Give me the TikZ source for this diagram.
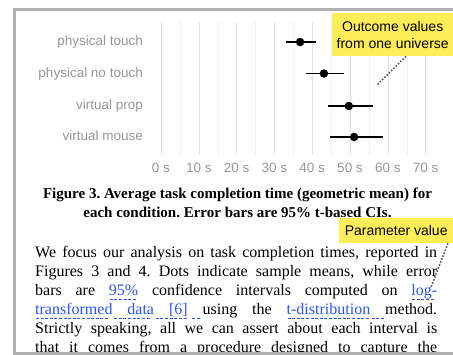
\documentclass[tikz,border=0pt]{standalone}
\usepackage{fontspec}
\setmainfont{Liberation Serif}
\setsansfont{Liberation Sans}
\usetikzlibrary{positioning}
\frenchspacing
\definecolor{framegray}{RGB}{176,176,176}
\definecolor{gridmajor}{RGB}{224,224,224}
\definecolor{gridminor}{RGB}{241,241,241}
\definecolor{labelgray}{RGB}{150,150,150}
\definecolor{noteyellow}{RGB}{255,238,88}
\definecolor{linkblue}{RGB}{45,85,230}
\tikzstyle{rowlabel} = [anchor=east,inner sep=0,text=labelgray,text height=10pt,
  text depth=3pt,font=\sffamily\fontsize{13.5}{16}\selectfont]
\tikzstyle{ticklabel} = [inner sep=0,text=labelgray,text height=10pt,text depth=3pt,
  font=\sffamily\fontsize{13.5}{16}\selectfont]
\tikzstyle{meandot} = [circle,fill=black,inner sep=0,minimum size=8.5pt]
\tikzstyle{errbar} = [line width=1.5pt]
\tikzstyle{note} = [rectangle,fill=noteyellow,inner sep=0,align=center,
  font=\sffamily\fontsize{14}{17}\selectfont]
\tikzstyle{pointer} = [draw=black!65,line width=1.6pt,dash pattern=on 1.6pt off 1.6pt]
% links with a dashed underline
\newcommand{\dashbit}{\hbox to 4.6pt{\hss\lower4pt\hbox{\vrule width 3pt height 0.8pt depth 0pt}\hss}}
\newcommand{\lnk}[1]{{\color{linkblue}\setbox0\hbox{#1}%
  \rlap{\hbox to \wd0{\leaders\dashbit\hfill}}\box0}}
\newcommand{\lsp}{{\color{linkblue}\leaders\dashbit
  \hskip\fontdimen2\font plus\fontdimen3\font minus\fontdimen4\font}}

\begin{document}
\begin{tikzpicture}[x=1pt,y=-1pt]
\useasboundingbox (0,0) rectangle (453,354);

% chart
\begin{scope}[xshift=161pt,x=3.78pt]
\foreach \s in {5,15,...,65} \draw[gridminor] (\s,22) -- (\s,155);
\foreach \s in {0,10,...,70} {
  \draw[gridmajor] (\s,22) -- (\s,155);
  \node[ticklabel] (t\s) at (\s,169) {\s\ s};
}
\foreach \name/\txt/\y/\lo/\m/\hi in {
    pt/physical touch/42/33/36.8/41,
    pnt/physical no touch/73.5/38.4/43.1/48.4,
    vp/virtual prop/106/44.2/49.7/56.1,
    vm/virtual mouse/137/44.7/51.1/58.7} {
  \node[rowlabel] (l\name) at (-4.76,\y) {\txt};
  \draw[errbar] (\lo,\y) -- (\hi,\y);
  \node[meandot] (d\name) at (\m,\y) {};
}
\end{scope}

% caption
\node[align=center,inner sep=0,font=\bfseries\fontsize{15}{19}\selectfont] (caption)
  at (237.5,203) {Figure 3. Average task completion time (geometric mean) for\\
  each condition. Error bars are 95\% t-based CIs.};

% body text
\begin{scope}
\clip (16,11) rectangle (453,351.5);
\node[anchor=north west,inner sep=0,text width=402pt,align=justify,
  font=\fontsize{16}{19}\selectfont] (body) at (35,246) {\tolerance=10000
  \parfillskip=0pt
  We focus our analysis on task completion times, reported in\linebreak
  Figures 3 and 4. Dots indicate sample means, while error\linebreak
  bars are \lnk{95\%} confidence intervals computed on \lnk{log-}\linebreak
  \lnk{transformed}\lsp\lnk{data}\lsp\lnk{[6]}\lsp using the
  \lnk{t-distribution}\lsp method.\linebreak
  Strictly speaking, all we can assert about each interval is\linebreak
  that it comes from a procedure designed to capture the\par};
\end{scope}

% callouts
\node[note,anchor=north west,minimum width=121pt,minimum height=43pt] (outcome)
  at (332,13) {Outcome values\\from one universe};
\coordinate (outcomeend) at (377,85);
\draw[pointer] ([xshift=74pt]outcome.south west) -- (outcomeend);

\node[note,anchor=north west,minimum width=114pt,minimum height=25pt] (param)
  at (339,218) {Parameter value};
\coordinate (paramend) at (431,287);
\draw[pointer] ([xshift=109pt]param.south west) -- (paramend);

% frame
\draw[framegray,line width=3pt] (453,9.5) -- (14.5,9.5) -- (14.5,353) -- (453,353);
\end{tikzpicture}
\end{document}
